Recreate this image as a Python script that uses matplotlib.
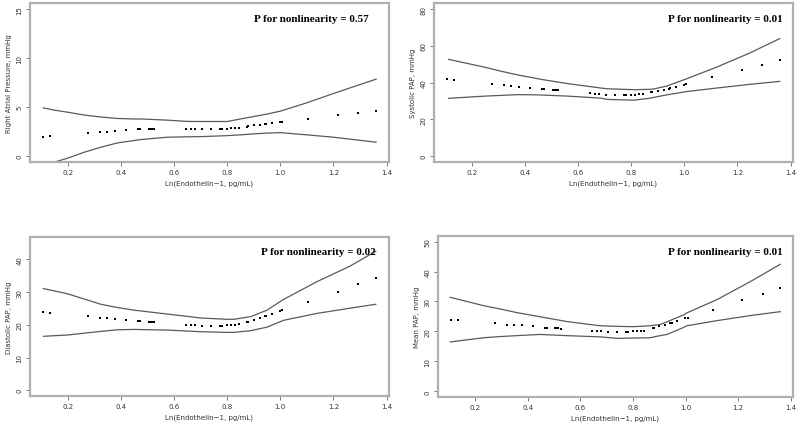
import matplotlib
matplotlib.use("Agg")
import matplotlib.pyplot as plt

# Ln(Endothelin-1) at each fitted point (same for all four panels)
et1 = [0.109, 0.134, 0.275, 0.322, 0.347, 0.379, 0.420, 0.466, 0.472, 0.505,
       0.511, 0.516, 0.526, 0.646, 0.664, 0.678, 0.704, 0.739, 0.772, 0.781,
       0.801, 0.815, 0.829, 0.843, 0.876, 0.880, 0.900, 0.922, 0.941, 0.948,
       0.969, 0.998, 1.008, 1.104, 1.216, 1.294, 1.359]

# predicted values
rap = [2.00, 2.04, 2.41, 2.50, 2.50, 2.58, 2.69, 2.79, 2.80, 2.82,
       2.82, 2.82, 2.81, 2.79, 2.79, 2.79, 2.79, 2.79, 2.79, 2.80,
       2.82, 2.85, 2.88, 2.92, 3.03, 3.05, 3.16, 3.23, 3.27, 3.30,
       3.37, 3.47, 3.49, 3.81, 4.18, 4.42, 4.63]
spap = [42.2, 41.6, 39.5, 38.7, 38.4, 37.8, 37.3, 36.7, 36.6, 36.2,
        36.1, 36.0, 35.8, 34.2, 34.0, 33.8, 33.5, 33.3, 33.3, 33.3,
        33.4, 33.5, 33.6, 33.8, 34.7, 34.9, 35.4, 36.0, 36.6, 36.9,
        37.9, 39.0, 39.2, 42.9, 47.1, 49.6, 52.2]
dpap = [23.8, 23.7, 22.6, 22.2, 22.1, 21.9, 21.6, 21.2, 21.2, 20.9,
        20.9, 20.9, 20.8, 20.1, 19.9, 19.9, 19.8, 19.7, 19.6, 19.6,
        19.9, 20.0, 20.1, 20.2, 20.9, 21.0, 21.4, 22.1, 22.6, 22.7,
        23.4, 24.3, 24.4, 27.0, 30.2, 32.5, 34.3]
mpap = [23.9, 23.7, 22.7, 22.3, 22.1, 22.0, 21.7, 21.3, 21.3, 21.1,
        21.0, 21.0, 20.8, 20.0, 20.0, 20.0, 19.9, 19.8, 19.8, 19.8,
        20.0, 20.1, 20.2, 20.3, 21.1, 21.2, 21.7, 22.2, 22.7, 22.8,
        23.6, 24.4, 24.6, 27.2, 30.5, 32.6, 34.4]

# 95% CI bands
rap_ci_x = [0.109, 0.15, 0.2, 0.2625, 0.325, 0.3875, 0.45, 0.475, 0.575, 0.65,
            0.7, 0.8, 0.85, 0.9, 0.95, 1.0, 1.1, 1.2, 1.36]
rap_lo = [-1.3, -0.6, -0.2, 0.41, 0.92, 1.36, 1.6, 1.7, 1.94, 1.98,
          2.0, 2.1, 2.18, 2.28, 2.36, 2.41, 2.18, 1.94, 1.43]
rap_hi = [4.93, 4.7, 4.49, 4.2, 4.0, 3.85, 3.8, 3.8, 3.68, 3.55,
          3.54, 3.54, 3.8, 4.05, 4.3, 4.6, 5.45, 6.4, 7.86]

spap_ci_x = [0.113, 0.25, 0.312, 0.374, 0.437, 0.462, 0.561, 0.686, 0.711, 0.811,
             0.873, 0.885, 0.935, 1.01, 1.122, 1.247, 1.359]
spap_lo = [31.5, 32.7, 33.1, 33.5, 33.4, 33.3, 32.7, 31.6, 30.9, 30.5,
           31.6, 32.0, 33.4, 35.2, 37.1, 39.1, 40.7]
spap_hi = [52.7, 48.4, 46.2, 44.2, 42.5, 41.8, 39.5, 37.1, 36.7, 36.2,
           36.4, 36.6, 38.2, 42.2, 48.5, 56.2, 64.0]

dpap_ci_x = [0.109, 0.2, 0.325, 0.3875, 0.45, 0.575, 0.65, 0.7, 0.8, 0.825,
             0.8875, 0.95, 1.0125, 1.1375, 1.2625, 1.359]
dpap_lo = [16.5, 16.9, 18.0, 18.5, 18.6, 18.4, 18.1, 17.9, 17.7, 17.7,
           18.2, 19.3, 21.4, 23.5, 25.1, 26.3]
dpap_hi = [31.1, 29.5, 26.3, 25.3, 24.5, 23.3, 22.6, 22.1, 21.7, 21.7,
           22.5, 24.5, 27.8, 33.2, 38.0, 42.5]

mpap_ci_x = [0.105, 0.232, 0.295, 0.358, 0.422, 0.447, 0.549, 0.675, 0.739, 0.802,
             0.865, 0.903, 0.929, 0.992, 1.005, 1.119, 1.246, 1.36]
mpap_lo = [16.5, 17.9, 18.3, 18.6, 18.9, 19.0, 18.6, 18.2, 17.7, 17.8,
           17.9, 18.6, 19.0, 21.3, 21.9, 23.6, 25.3, 26.6]
mpap_hi = [31.4, 28.6, 27.5, 26.3, 25.3, 24.9, 23.3, 21.9, 21.7, 21.6,
           21.9, 22.3, 23.2, 25.5, 26.2, 30.6, 36.6, 42.4]

ylabels = ["Right Atrial Pressure, mmHg", "Systolic PAP, mmHg",
           "Diastolic PAP, mmHg", "Mean PAP, mmHg"]
p_text = ["P for nonlinearity = 0.57", "P for nonlinearity = 0.01",
          "P for nonlinearity = 0.02", "P for nonlinearity = 0.01"]
yticks = [[0, 5, 10, 15], [0, 20, 40, 60, 80],
          [0, 10, 20, 30, 40], [0, 10, 20, 30, 40, 50]]
xticks = [0.2, 0.4, 0.6, 0.8, 1.0, 1.2, 1.4]

panels = [
    (rap, rap_ci_x, rap_lo, rap_hi, (-0.6, 15.6), [0.037, 0.618, 0.449, 0.372], 0.944, 0.906),
    (spap, spap_ci_x, spap_lo, spap_hi, (-3.2, 83.2), [0.542, 0.618, 0.449, 0.372], 0.971, 0.906),
    (dpap, dpap_ci_x, dpap_lo, dpap_hi, (-1.8, 46.8), [0.037, 0.070, 0.449, 0.372], 0.963, 0.912),
    (mpap, mpap_ci_x, mpap_lo, mpap_hi, (-2.0, 52.0), [0.547, 0.067, 0.444, 0.379], 0.970, 0.903),
]

fig = plt.figure(figsize=(8, 4.27), dpi=100)
fig.patch.set_facecolor("white")

for i, (yv, cx, lo, hi, ylim, rect, tx, ty) in enumerate(panels):
    ax = fig.add_axes(rect)
    ax.plot(cx, lo, color="#5a5a5a", lw=0.9)
    ax.plot(cx, hi, color="#5a5a5a", lw=0.9)
    ax.scatter(et1, yv, s=2, color="black", marker="s", lw=0)
    ax.set_xlim(0.057, 1.408)
    ax.set_ylim(*ylim)
    ax.set_xticks(xticks)
    ax.set_xticklabels(["0.2", "0.4", "0.6", "0.8", "1.0", "1.2", "1.4"])
    ax.set_yticks(yticks[i])
    ax.set_yticklabels([str(t) for t in yticks[i]], rotation=90, va="center")
    ax.tick_params(labelsize=5, length=3, width=0.6, color="#666666",
                   labelcolor="#333333", pad=2)
    for s in ax.spines.values():
        s.set_color("#b0b0b0")
        s.set_linewidth(1.6)
    ax.set_xlabel("Ln(Endothelin\u22121, pg/mL)", fontsize=5, color="#333333", labelpad=3)
    ax.set_ylabel(ylabels[i], fontsize=5, color="#333333", labelpad=3)
    ax.text(tx, ty, p_text[i], transform=ax.transAxes, ha="right", va="center",
            fontsize=8, fontweight="bold", family="Liberation Serif")

fig.savefig("out.png", dpi=100)
